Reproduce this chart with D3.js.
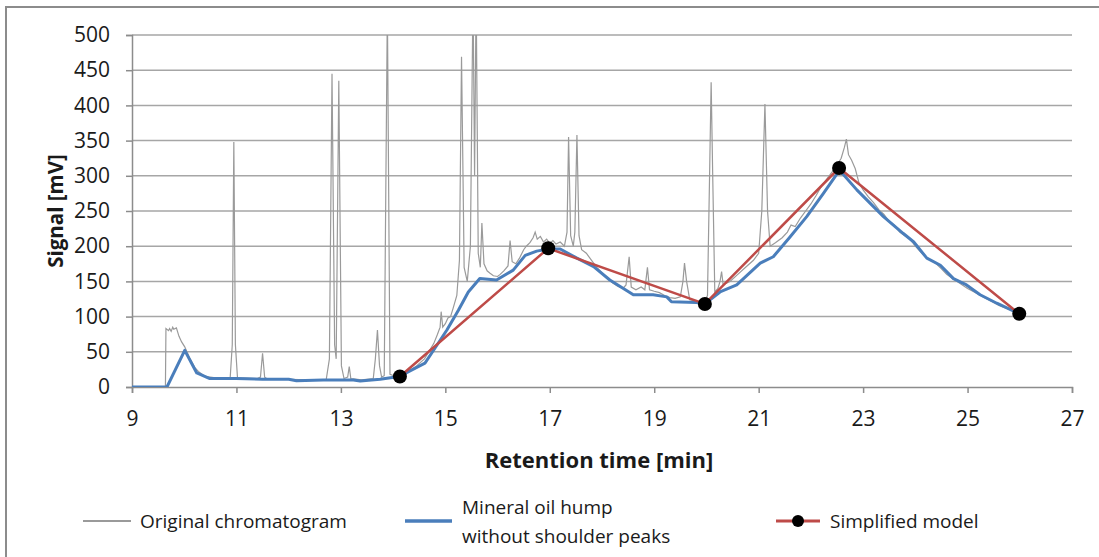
<!DOCTYPE html>
<html>
<head>
<meta charset="utf-8">
<script src="https://cdn.jsdelivr.net/npm/d3@7"></script>
<style>
  body { margin: 0; background: #fff; }
  text { font-family: "Open Sans", "Noto Sans", sans-serif; fill: #1a1a1a; }
</style>
</head>
<body>
<div id="chart"></div>
<script>
// Original chromatogram [time, signal]
var originalData = [
  [9.00, 0], [9.64, 0], [9.65, 83], [9.70, 80], [9.72, 83], [9.75, 79], [9.78, 85], [9.80, 82],
  [9.85, 84], [9.90, 72], [9.95, 64], [10.01, 57], [10.10, 42], [10.20, 28], [10.27, 22],
  [10.40, 15], [10.60, 13], [10.88, 13], [10.92, 60], [10.95, 348], [10.98, 60], [11.02, 13],
  [11.40, 12], [11.46, 14], [11.50, 48], [11.54, 14], [11.60, 11], [12.00, 11], [12.40, 10],
  [12.72, 11], [12.78, 40], [12.83, 445], [12.88, 60], [12.91, 40], [12.96, 435], [13.01, 30],
  [13.06, 12], [13.13, 14], [13.16, 29], [13.19, 12], [13.40, 10], [13.62, 12], [13.66, 40],
  [13.70, 81], [13.74, 30], [13.78, 14], [13.83, 16], [13.89, 540], [13.94, 18], [14.05, 15],
  [14.13, 16], [14.30, 22], [14.45, 30], [14.60, 40], [14.70, 52], [14.78, 62], [14.85, 75],
  [14.90, 85], [14.92, 107], [14.95, 85], [15.00, 90], [15.05, 98], [15.10, 100], [15.15, 112],
  [15.22, 130], [15.27, 180], [15.31, 469], [15.36, 170], [15.42, 150], [15.48, 200], [15.53, 560],
  [15.56, 300], [15.59, 560], [15.63, 190], [15.67, 170], [15.70, 233], [15.74, 175], [15.80, 165],
  [15.85, 162], [15.92, 158], [16.00, 157], [16.05, 160], [16.12, 165], [16.20, 172], [16.24, 208],
  [16.28, 178], [16.35, 175], [16.42, 183], [16.50, 195], [16.55, 200], [16.62, 205], [16.68, 212],
  [16.72, 220], [16.76, 210], [16.82, 214], [16.88, 206], [16.94, 210], [17.00, 204], [17.06, 208],
  [17.12, 203], [17.20, 206], [17.28, 200], [17.33, 220], [17.36, 355], [17.40, 215], [17.45, 200],
  [17.48, 220], [17.52, 358], [17.56, 215], [17.61, 195], [17.70, 190], [17.80, 180], [17.90, 170],
  [18.00, 162], [18.10, 155], [18.20, 148], [18.30, 143], [18.40, 140], [18.46, 145], [18.52, 185],
  [18.56, 142], [18.65, 138], [18.75, 142], [18.82, 138], [18.87, 170], [18.91, 138], [19.00, 136],
  [19.10, 134], [19.20, 130], [19.30, 127], [19.40, 126], [19.50, 128], [19.55, 150], [19.58, 176],
  [19.62, 150], [19.68, 124], [19.80, 122], [19.95, 120], [20.02, 130], [20.06, 300], [20.09, 433],
  [20.12, 300], [20.16, 135], [20.22, 140], [20.26, 150], [20.29, 164], [20.32, 145], [20.45, 150],
  [20.60, 160], [20.75, 170], [20.90, 180], [21.00, 190], [21.06, 250], [21.12, 402], [21.17, 250],
  [21.22, 200], [21.32, 205], [21.45, 212], [21.55, 220], [21.62, 230], [21.70, 228], [21.80, 240],
  [21.90, 250], [22.00, 260], [22.10, 272], [22.20, 285], [22.30, 295], [22.40, 305], [22.50, 315],
  [22.58, 325], [22.64, 340], [22.68, 352], [22.72, 330], [22.78, 322], [22.85, 310], [22.92, 290],
  [23.00, 280], [23.10, 270], [23.20, 262], [23.30, 252], [23.40, 245], [23.50, 235], [23.60, 230],
  [23.70, 220], [23.80, 215], [23.90, 210], [24.00, 200], [24.10, 192], [24.20, 185], [24.30, 180],
  [24.40, 175], [24.50, 168], [24.60, 160], [24.70, 155], [24.80, 150], [24.90, 145], [25.00, 140],
  [25.10, 136], [25.20, 132], [25.30, 128], [25.40, 124], [25.50, 120], [25.60, 116], [25.80, 110],
  [26.00, 104]
];

// Mineral oil hump without shoulder peaks
var humpData = [
  [9.00, 0], [9.67, 0], [10.01, 52], [10.24, 20], [10.49, 12], [11.00, 12], [11.50, 11],
  [12.00, 11], [12.15, 9], [12.66, 10], [13.24, 10], [13.37, 8.5], [13.75, 11], [14.12, 15],
  [14.61, 34], [14.80, 55], [15.03, 81], [15.25, 109], [15.44, 135], [15.66, 154], [15.98, 152],
  [16.30, 166], [16.53, 187], [16.75, 193], [16.97, 196], [17.20, 196], [17.52, 183], [17.84, 171],
  [18.15, 152], [18.60, 131], [18.98, 131], [19.24, 128], [19.33, 121], [19.81, 120], [19.97, 118],
  [20.26, 135], [20.58, 145], [21.03, 176], [21.28, 185], [21.60, 213], [21.92, 242], [22.24, 275],
  [22.55, 308], [22.88, 280], [23.39, 242], [23.77, 218], [23.97, 206], [24.22, 183], [24.48, 173],
  [24.73, 154], [24.98, 145], [25.24, 131], [25.56, 119], [25.99, 104]
];

// Simplified model
var modelData = [[14.13, 15], [16.97, 197], [19.97, 118], [22.54, 311], [25.99, 104]];

var xTicks = [9, 11, 13, 15, 17, 19, 21, 23, 25, 27];
var yTicks = [0, 50, 100, 150, 200, 250, 300, 350, 400, 450, 500];

var svgWidth = 1099, svgHeight = 557;
var plotLeft = 132, plotRight = 1072, plotTop = 35, plotBottom = 387;

var svg = d3.select("#chart").append("svg")
  .attr("width", svgWidth)
  .attr("height", svgHeight);

// outer frame
svg.append("rect")
  .attr("x", 6).attr("y", 7)
  .attr("width", 1110).attr("height", 570)
  .attr("fill", "none")
  .attr("stroke", "#8c8c8c")
  .attr("stroke-width", 2);

var x = d3.scaleLinear().domain([9, 27]).range([plotLeft, plotRight]);
var y = d3.scaleLinear().domain([0, 500]).range([plotBottom, plotTop]);

// horizontal gridlines
svg.append("g")
  .selectAll("line")
  .data(yTicks.filter(function (d) { return d > 0; }))
  .enter()
  .append("line")
    .attr("x1", plotLeft).attr("x2", plotRight)
    .attr("y1", function (d) { return y(d); })
    .attr("y2", function (d) { return y(d); })
    .attr("stroke", "#a6a6a6")
    .attr("stroke-width", 1.5);

// y axis
var yAxis = svg.append("g")
  .attr("transform", "translate(" + plotLeft + ",0)")
  .call(d3.axisLeft(y).tickValues(yTicks).tickSize(6).tickPadding(16));
yAxis.select(".domain").attr("stroke", "#8c8c8c").attr("stroke-width", 1.5);
yAxis.selectAll(".tick line").attr("stroke", "#8c8c8c").attr("stroke-width", 1.5);
yAxis.selectAll("text")
  .attr("font-size", 21)
  .attr("font-family", "'Open Sans', sans-serif")
  .attr("fill", "#1a1a1a");

// x axis
var xAxis = svg.append("g")
  .attr("transform", "translate(0," + plotBottom + ")")
  .call(d3.axisBottom(x).tickValues(xTicks).tickSize(6).tickPadding(18));
xAxis.select(".domain").attr("stroke", "#8c8c8c").attr("stroke-width", 1.5);
xAxis.selectAll(".tick line").attr("stroke", "#8c8c8c").attr("stroke-width", 1.5);
xAxis.selectAll("text")
  .attr("font-size", 21)
  .attr("font-family", "'Open Sans', sans-serif")
  .attr("fill", "#1a1a1a");

// clip for plot area
svg.append("clipPath").attr("id", "plot-clip")
  .append("rect")
    .attr("x", plotLeft).attr("y", plotTop)
    .attr("width", plotRight - plotLeft).attr("height", plotBottom - plotTop);

var line = d3.line()
  .x(function (d) { return x(d[0]); })
  .y(function (d) { return y(d[1]); });

var plot = svg.append("g").attr("clip-path", "url(#plot-clip)");

plot.append("path")
  .datum(originalData)
  .attr("d", line)
  .attr("fill", "none")
  .attr("stroke", "#9a9a9a")
  .attr("stroke-width", 1.2);

plot.append("path")
  .datum(humpData)
  .attr("d", line)
  .attr("fill", "none")
  .attr("stroke", "#4a7ebb")
  .attr("stroke-width", 3)
  .attr("stroke-linejoin", "round");

svg.append("path")
  .datum(modelData)
  .attr("d", line)
  .attr("fill", "none")
  .attr("stroke", "#be4b48")
  .attr("stroke-width", 2.5);

svg.selectAll(".model-dot")
  .data(modelData)
  .enter()
  .append("circle")
    .attr("class", "model-dot")
    .attr("cx", function (d) { return x(d[0]); })
    .attr("cy", function (d) { return y(d[1]); })
    .attr("r", 7)
    .attr("fill", "#000");

// axis titles
svg.append("text")
  .attr("x", (plotLeft + plotRight) / 2 - 3)
  .attr("y", 468)
  .attr("text-anchor", "middle")
  .attr("font-size", 22)
  .attr("font-weight", "bold")
  .text("Retention time [min]");

svg.append("text")
  .attr("transform", "translate(63,211) rotate(-90)")
  .attr("text-anchor", "middle")
  .attr("font-size", 20.5)
  .attr("font-weight", "bold")
  .text("Signal [mV]");

// legend
var legend = svg.append("g").attr("font-size", 19);

legend.append("line")
  .attr("x1", 83).attr("x2", 131).attr("y1", 521).attr("y2", 521)
  .attr("stroke", "#9a9a9a").attr("stroke-width", 2);
legend.append("text").attr("x", 140).attr("y", 528).text("Original chromatogram");

legend.append("line")
  .attr("x1", 405).attr("x2", 452).attr("y1", 521).attr("y2", 521)
  .attr("stroke", "#4a7ebb").attr("stroke-width", 3.5);
legend.append("text").attr("x", 462).attr("y", 514).text("Mineral oil hump");
legend.append("text").attr("x", 462).attr("y", 543).text("without shoulder peaks");

legend.append("line")
  .attr("x1", 776).attr("x2", 820).attr("y1", 521).attr("y2", 521)
  .attr("stroke", "#be4b48").attr("stroke-width", 3);
legend.append("circle")
  .attr("cx", 798).attr("cy", 521).attr("r", 6).attr("fill", "#000");
legend.append("text").attr("x", 830).attr("y", 528).text("Simplified model");
</script>
</body>
</html>
